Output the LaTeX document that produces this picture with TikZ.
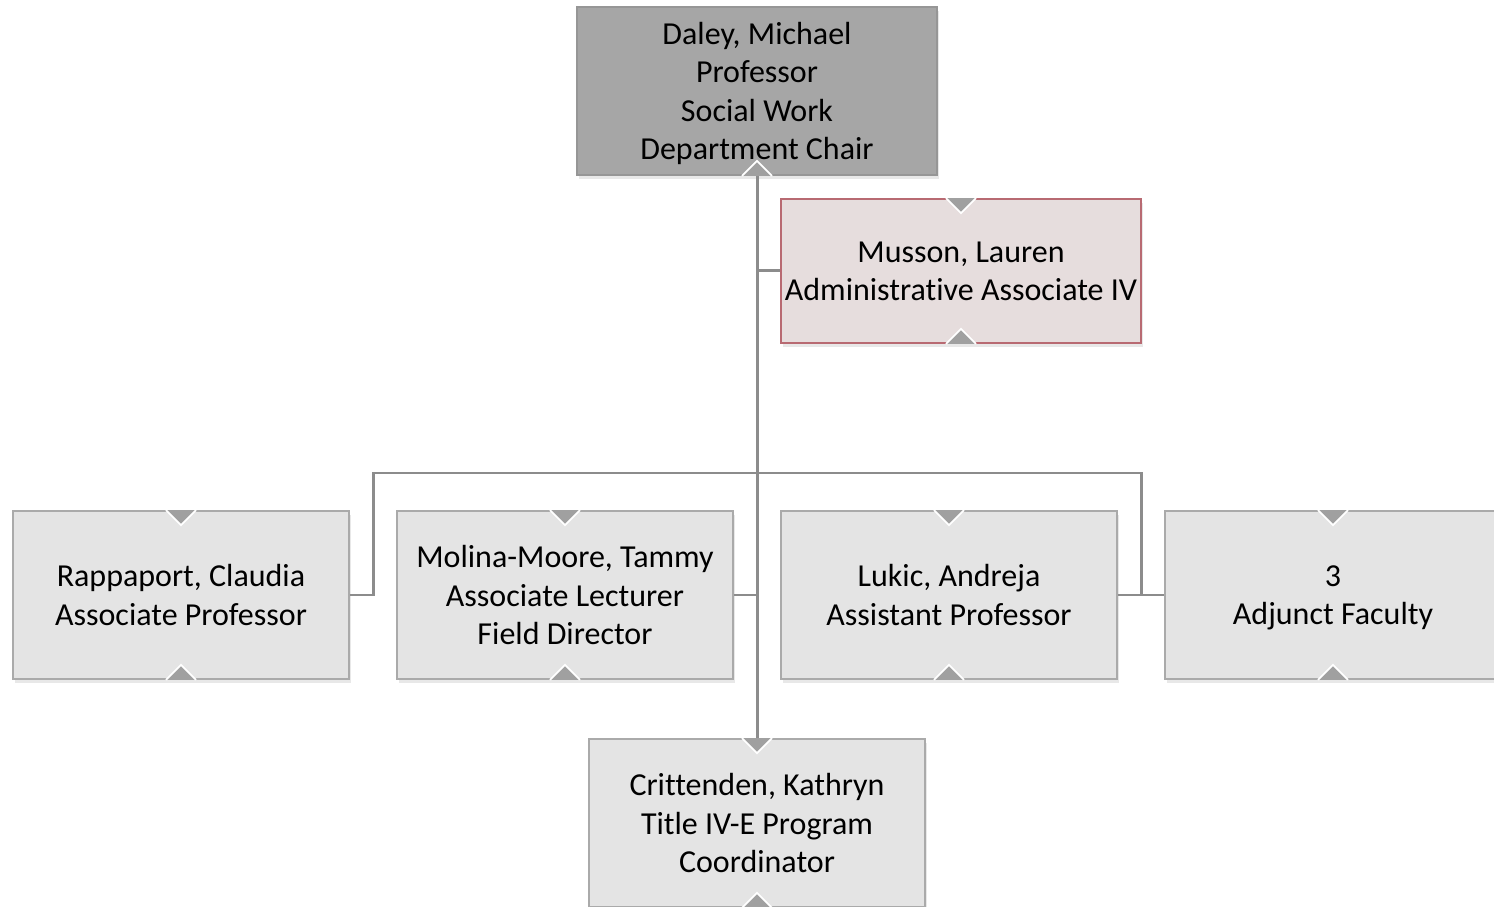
\documentclass[tikz,border=0pt]{standalone}
\usepackage{fontspec}
\setmainfont{Carlito}[Ligatures=NoCommon]
\usetikzlibrary{shadows}

\definecolor{chairfill}{RGB}{166,166,166}
\definecolor{chairline}{RGB}{150,150,150}
\definecolor{staffill}{RGB}{228,228,228}
\definecolor{staffline}{RGB}{170,170,170}
\definecolor{adminfill}{RGB}{230,221,221}
\definecolor{adminline}{RGB}{184,106,114}
\definecolor{linkgrey}{RGB}{140,140,140}
\definecolor{notchgrey}{RGB}{160,160,160}

\tikzset{
  person/.style={draw=staffline, fill=staffill, line width=0.45pt,
    minimum width=3.36cm, minimum height=1.68cm, inner sep=0pt, align=center,
    font=\fontsize{9.1}{10.95}\selectfont, text depth=0pt,
    drop shadow={opacity=0.18, shadow xshift=0.6pt, shadow yshift=-1.2pt}},
  chairbox/.style={person, draw=chairline, fill=chairfill, minimum width=3.6cm},
  adminbox/.style={person, draw=adminline, fill=adminfill, minimum width=3.6cm, minimum height=1.44cm},
  link/.style={draw=linkgrey, line width=0.85pt},
  notch/.style={fill=notchgrey, draw=white, line width=0.5pt, line join=miter}
}

\begin{document}
\begin{tikzpicture}[x=0.01cm, y=-0.01cm]
  \useasboundingbox (0,0) rectangle (1494,907);
  \clip (0,0) rectangle (1494,907);

  % people
  \node[chairbox] (chair)  at (757,91)  {Daley, Michael\\Professor\\Social Work\\Department Chair};
  \node[adminbox] (musson) at (961,271) {Musson, Lauren\\Administrative Associate IV};
  \node[person]   (rapp)   at (181,595) {Rappaport, Claudia\\Associate Professor};
  \node[person]   (molina) at (565,595) {Molina-Moore, Tammy\\Associate Lecturer\\Field Director};
  \node[person]   (lukic)  at (949,595) {Lukic, Andreja\\Assistant Professor};
  \node[person]   (adj)    at (1333,595) {3\\Adjunct Faculty};
  \node[person]   (crit)   at (757,823) {Crittenden, Kathryn\\Title IV-E Program\\Coordinator};

  % connectors
  \coordinate (busL) at (373,473);
  \coordinate (busR) at (1141,473);
  \draw[link] (chair.south) -- (crit.north);
  \draw[link] (chair.south |- musson.west) -- (musson.west);
  \draw[link] (rapp.east) -| (busL) -- (busR) |- (adj.west);
  \draw[link] (molina.east) -- (molina.east -| chair.south);
  \draw[link] (lukic.east) -- (lukic.east -| busR);

  % notches
  \foreach \n in {musson,rapp,molina,lukic,adj,crit} {
    \draw[notch] (\n.north) ++(-15,0) -- ++(15,15) -- ++(15,-15);
  }
  \foreach \n in {chair,musson,rapp,molina,lukic,adj,crit} {
    \draw[notch] (\n.south) ++(-15,0) -- ++(15,-15) -- ++(15,15);
  }
\end{tikzpicture}
\end{document}
